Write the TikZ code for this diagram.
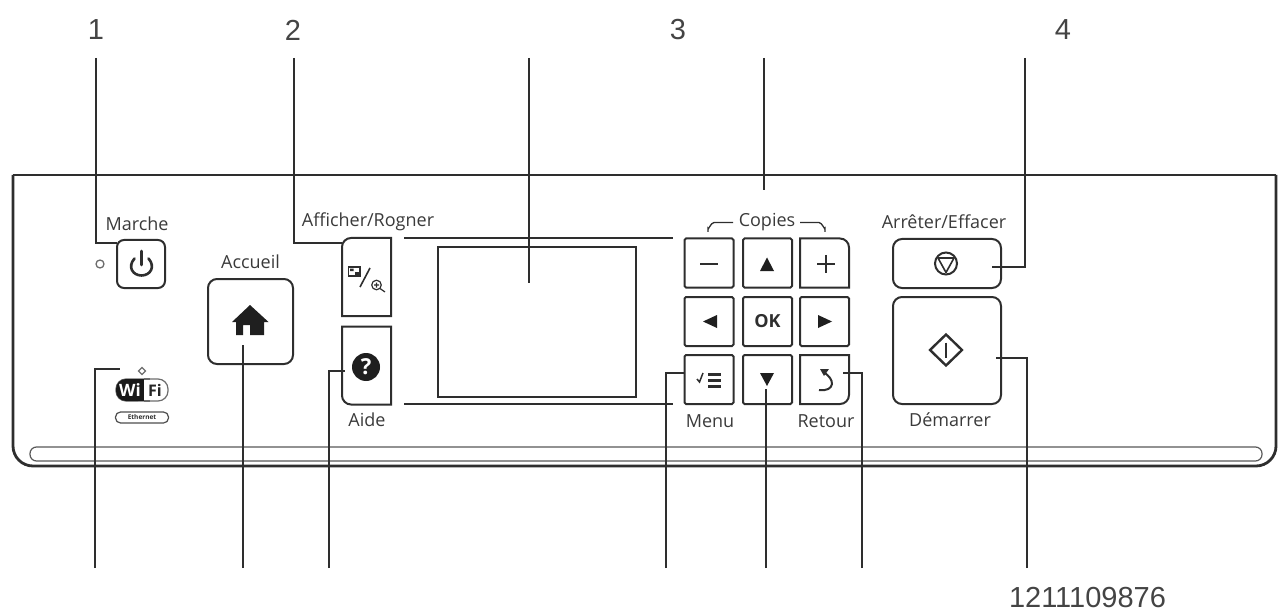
\documentclass[tikz,border=0pt]{standalone}
\usepackage{fontspec}
\setmainfont{Open Sans}
\newfontfamily\numfont{Liberation Sans}
\usetikzlibrary{calc}
\definecolor{ink}{HTML}{2E2E2E}
\definecolor{lab}{HTML}{3A3A3A}
\definecolor{numc}{HTML}{444444}
\tikzset{
  every node/.style={inner sep=0pt,outer sep=0pt},
  btn/.style={draw=ink,line width=2pt,rounded corners=1.5pt},
  keybtn/.style={btn,minimum width=49pt,minimum height=49pt},
  bigbtn/.style={draw=ink,line width=2pt,rounded corners=9pt},
  hole/.style={minimum width=49pt,minimum height=78pt},
  lab/.style={text=lab,font=\fontsize{18}{21}\selectfont},
  num/.style={text=numc,font=\numfont\fontsize{29}{32}\selectfont},
  call/.style={draw=ink,line width=1.6pt},
  outline/.style={draw=ink,line width=2pt},
  thin/.style={draw=ink,line width=1.3pt}
}
\begin{document}
\begin{tikzpicture}[x=1pt,y=-1pt]
\useasboundingbox (0,0) rectangle (1284,612);
% panel
\draw[draw=ink,line width=2.4pt] (13,175) -- (1276,175);
\draw[draw=ink,line width=2.8pt,rounded corners=20pt] (13,175) -- (13,466) -- (1276,466) -- (1276,175);
\draw[draw=ink!80,line width=1.2pt,rounded corners=6.5pt] (30,447) rectangle (1262,461);
% buttons
\node[btn,minimum width=48pt,minimum height=48pt,rounded corners=7pt] (power) at (141,264) {};
\node[bigbtn,minimum width=85pt,minimum height=85pt] (home) at (250.5,321.5) {};
\node[hole] (view) at (366.5,277) {};
\node[hole] (help) at (366.5,365.5) {};
\draw[outline] (view.south west) -- (view.north west |- 0,247) [rounded corners=9pt] -- (view.north west) [sharp corners] -- (view.north east) -- (view.south east) -- cycle;
\draw[outline] (help.north west) -- (help.west |- 0,396) [rounded corners=9pt] -- (help.south west) [sharp corners] -- (help.south east) -- (help.north east) -- cycle;
\node[draw=ink,line width=2pt,minimum width=198pt,minimum height=150pt] (screen) at (537,322) {};
\draw[outline] (404,238) -- (673,238);
\draw[outline] (404,404) -- (673,404);
% keypad
\node[keybtn] (minus) at (709,263) {};
\node[keybtn] (up) at (767.5,263) {};
\node[hole,minimum height=49pt] (plus) at (824.5,263) {};
\draw[outline] (plus.south west) -- (plus.north west) [rounded corners=9pt] -- (plus.north east) [sharp corners] -- (plus.south east) -- cycle;
\node[keybtn] (left) at (709,321.5) {};
\node[keybtn,font=\bfseries\fontsize{18}{20}\selectfont,text=ink] (ok) at (767.5,321.5) {OK};
\node[keybtn] (right) at (824.5,321.5) {};
\node[keybtn] (menu) at (709,379.5) {};
\node[keybtn] (down) at (767.5,379.5) {};
\node[hole,minimum height=49pt] (back) at (824.5,379.5) {};
\draw[outline] (back.north east) [rounded corners=9pt] -- (back.south east) [sharp corners] -- (back.south west) -- (back.north west) -- cycle;
\node[bigbtn,minimum width=108pt,minimum height=49pt] (stop) at (947,263.5) {};
\node[bigbtn,minimum width=108pt,minimum height=107pt] (start) at (947,350.5) {};
% labels
\node[lab] (lmarche) at (137,224) {Marche};
\node[lab] (laccueil) at (250.5,262) {Accueil};
\node[lab] (lview) at (368,222) {Afficher/Rogner};
\node[lab] (laide) at (367,420) {Aide};
\node[lab] (lcopies) at (767,222.5) {Copies};
\node[lab] (lmenu) at (710,421) {Menu};
\node[lab] (lretour) at (826,421) {Retour};
\node[lab] (lstop) at (944,222) {Arrêter/Effacer};
\node[lab] (lstart) at (950,420) {Démarrer};
% copies bracket
\draw[thin] (708,232) -- (708,228) to[out=-90,in=180] (714,222.5) -- (733,222.5);
\draw[thin] (800,222.5) -- (819,222.5) to[out=0,in=-90] (825,228) -- (825,232);
% icons
\draw[draw=ink,line width=2.6pt,line cap=round] (134.5,258.5) .. controls (127,267) and (133,275.5) .. (141.5,275.5) .. controls (150,275.5) and (156,267) .. (148.5,258.5);
\draw[draw=ink,line width=2.6pt,line cap=round] (141.5,251) -- (141.5,265);
\draw[draw=ink!70,line width=1.3pt] (100,264) circle[radius=4];
\fill[black!88] (250,305) -- (268.5,322) -- (264,322) -- (264,335) -- (250,335) -- (250,325) -- (243,325) -- (243,335) -- (236,335) -- (236,322) -- (232,322) -- cycle;
\fill[black!88] (366,367) circle[radius=14];
\node[text=white,font=\bfseries\fontsize{22}{24}\selectfont] (qmark) at (366,367) {?};
\draw[draw=ink,line width=1.4pt] (348.5,267) rectangle (360,276);
\fill[ink] (350,268.5) rectangle (353.5,271) (355,272) rectangle (359,275);
\draw[draw=ink,line width=1.6pt] (360,287) -- (370,268);
\draw[draw=ink,line width=1.2pt] (376.5,285) circle[radius=4.8] (380,288.5) -- (385,292) (374,285) -- (379,285) (376.5,282.5) -- (376.5,287.5);
\draw[draw=ink,line width=2.2pt] (700,264) -- (718,264);
\fill[black!88] (767,257.5) -- (774,271) -- (760,271) -- cycle;
\draw[draw=ink,line width=2.2pt] (817,264) -- (835,264) (826,255) -- (826,273);
\fill[black!88] (703,321.5) -- (717,315) -- (717,328) -- cycle;
\fill[black!88] (832,321.5) -- (818,315) -- (818,328) -- cycle;
\fill[black!88] (767,386) -- (760,373) -- (774,373) -- cycle;
\draw[draw=ink,line width=3pt] (708,374) -- (721,374) (708,380) -- (721,380) (708,386) -- (721,386);
\draw[draw=ink,line width=1.5pt] (697,379) -- (699.5,382) -- (703,373);
\draw[draw=ink,line width=2pt] (819,390) .. controls (835,392) and (836,379) .. (823,372);
\fill[ink] (820,369) -- (829,369) -- (824,376) -- cycle;
\draw[draw=ink,line width=2pt] (946,263.5) circle[radius=11];
\draw[draw=ink,line width=1.6pt,line join=round] (938,258) -- (954,258) -- (946,272.5) -- cycle;
\draw[draw=ink,line width=2.4pt,line join=miter] (946,334.5) -- (962,350) -- (946,365.5) -- (930,350) -- cycle;
\draw[draw=ink,line width=2.4pt] (946,342.5) -- (946,357.5);
% status icons
\draw[draw=ink!70,line width=1.1pt] (142,367.5) -- (145.5,371) -- (142,374.5) -- (138.5,371) -- cycle;
\draw[draw=ink!70,line width=1.2pt,rounded corners=10pt] (116,379) rectangle (168,401);
\fill[black!90,rounded corners=10pt] (116,379) -- (148,379) -- (148,401) -- (116,401) -- cycle;
\fill[black!90] (136,379) rectangle (144,401);
\fill[white] (144,378) rectangle (149,402);
\draw[draw=ink!70,line width=1.2pt] (144,379) -- (150,379) (144,401) -- (150,401);
\node[text=white,font=\bfseries\fontsize{17}{18}\selectfont] (wi) at (130,390) {Wi};
\node[text=black!85,font=\bfseries\fontsize{16}{18}\selectfont] (fi) at (155,390) {Fi};
\node[draw=ink!85,line width=1.2pt,rounded corners=5pt,minimum width=53pt,minimum height=11pt,font=\bfseries\fontsize{6.5}{7}\selectfont,text=ink] (eth) at (142,417.5) {Ethernet};
% callout numbers
\node[num] (n1) at (96,30) {1};
\node[num] (n2) at (293,30) {2};
\node[num] (n3) at (678,30) {3};
\node[num] (n4) at (1063,30) {4};
\node[num,anchor=west] (nb) at (1009,598) {1211109876};
% callout free ends
\coordinate (t1) at (96,58);
\coordinate (t2) at (294,58);
\coordinate (t3) at (529,58);
\coordinate (t4) at (764,58);
\coordinate (t5) at (1025,58);
\coordinate (b1) at (95,568);
\coordinate (b2) at (243,568);
\coordinate (b3) at (329,568);
\coordinate (b4) at (666,568);
\coordinate (b5) at (766,568);
\coordinate (b6) at (862,568);
\coordinate (b7) at (1027,568);
\draw[call] (t1) |- (power.west |- 0,243);
\draw[call] (t2) |- (view.west |- 0,243);
\draw[call] (t3) -- (529,283);
\draw[call] (t4) -- (764,190);
\draw[call] (t5) |- (992,267);
\draw[call] (b1) |- (120,369);
\draw[call] (b2) -- (243,345);
\draw[call] (b3) |- (345,371);
\draw[call] (b4) |- (menu.west |- 0,373);
\draw[call] (b5) -- (766,389);
\draw[call] (b6) |- (843,373);
\draw[call] (b7) |- (996,358);
\end{tikzpicture}
\end{document}
